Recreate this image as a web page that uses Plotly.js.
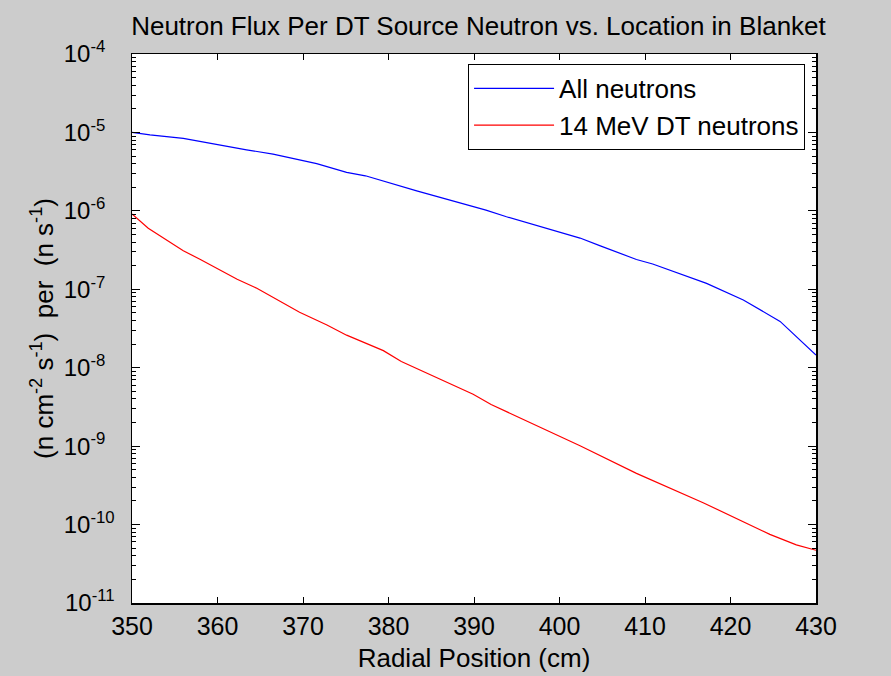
<!DOCTYPE html>
<html>
<head>
<meta charset="utf-8">
<script src="https://cdn.plot.ly/plotly-3.0.1.min.js"></script>
<style>html,body{margin:0;padding:0;background:#cccccc;}</style>
</head>
<body>
<div id="chart" style="width:891px;height:676px;"></div>
<script>
// Data
const allX = [350, 352.1, 356.0, 359.5, 363.4, 366.5, 368.9, 371.6, 375.1, 377.3, 383.3, 391.4, 393.8, 398.9, 402.4, 404.7, 409.0, 410.9, 417.2, 421.5, 425.8, 430];
const allY = [1.0e-5, 9.3e-6, 8.4e-6, 7.1e-6, 6.0e-6, 5.3e-6, 4.6e-6, 4.0e-6, 3.1e-6, 2.8e-6, 1.8e-6, 1.02e-6, 8.4e-7, 5.8e-7, 4.5e-7, 3.6e-7, 2.4e-7, 2.1e-7, 1.19e-7, 7.3e-8, 3.9e-8, 1.45e-8];
const dtX = [350, 351.9, 356.0, 358.0, 362.3, 364.6, 369.6, 372.8, 375.1, 376.7, 379.4, 381.5, 389.9, 392.0, 402.4, 409.0, 416.8, 424.6, 427.7, 430];
const dtY = [9.1e-7, 6.0e-7, 3.1e-7, 2.4e-7, 1.34e-7, 1.03e-7, 5.1e-8, 3.5e-8, 2.6e-8, 2.2e-8, 1.65e-8, 1.2e-8, 4.6e-9, 3.4e-9, 1.01e-9, 4.5e-10, 1.9e-10, 7.5e-11, 5.5e-11, 4.7e-11];
const seriesNames = ["All neutrons", "14 MeV DT neutrons"];
const yTickVals = [1e-11, 1e-10, 1e-9, 1e-8, 1e-7, 1e-6, 1e-5, 1e-4];
const yTickText = ["10<sup>-11</sup>", "10<sup>-10</sup>", "10<sup>-9\u00a0\u00a0</sup>", "10<sup>-8\u00a0\u00a0</sup>", "10<sup>-7\u00a0\u00a0</sup>", "10<sup>-6\u00a0\u00a0</sup>", "10<sup>-5\u00a0\u00a0</sup>", "10<sup>-4\u00a0\u00a0</sup>"];
const xTickVals = [350, 360, 370, 380, 390, 400, 410, 420, 430];

const font = "Liberation Sans, Arial, sans-serif";
const traces = [
  {x: allX, y: allY, name: seriesNames[0], mode: "lines", line: {color: "#0000ff", width: 1.2}},
  {x: dtX, y: dtY, name: seriesNames[1], mode: "lines", line: {color: "#ff0000", width: 1.2}},
  // invisible carrier so the minor-tick overlay axis is drawn
  {x: allX, y: allY, yaxis: "y2", mode: "lines", line: {width: 0, color: "rgba(0,0,0,0)"}, opacity: 0, showlegend: false, hoverinfo: "skip"}
];
const layout = {
  width: 891, height: 676,
  paper_bgcolor: "#cccccc", plot_bgcolor: "#ffffff",
  margin: {l: 132, r: 75, t: 54, b: 73},
  font: {family: font, size: 25, color: "#000000"},
  title: {text: "Neutron Flux Per DT Source Neutron vs. Location in Blanket", x: 0.537, xanchor: "center", y: 0.962, yanchor: "middle", font: {family: font, size: 26, color: "#000"}},
  showlegend: true,
  legend: {x: 0.984, y: 0.982, xanchor: "right", yanchor: "top", bgcolor: "#ffffff", bordercolor: "#000000", borderwidth: 1, font: {family: font, size: 26}, tracegroupgap: 0, itemwidth: 80},
  xaxis: {
    range: [350, 430], tickmode: "array", tickvals: xTickVals,
    ticks: "inside", ticklen: 6, tickcolor: "#000", tickwidth: 1,
    showline: true, linecolor: "#000", linewidth: 1.5, mirror: "ticks",
    showgrid: false, zeroline: false,
    tickfont: {family: font, size: 25},
    title: {text: "Radial Position (cm)", font: {family: font, size: 26}, standoff: 10},
    automargin: false
  },
  yaxis: {
    type: "log", range: [-11, -4], tickmode: "array", tickvals: yTickVals, ticktext: yTickText,
    ticks: "inside", ticklen: 8, tickcolor: "#000", tickwidth: 1,
    showline: true, linecolor: "#000", linewidth: 1.5, mirror: "ticks",
    showgrid: false, zeroline: false,
    tickfont: {family: font, size: 24},
    ticklabelstandoff: 11,
    title: {text: "(n cm<sup>-2</sup> s<sup>-1</sup>)  per  (n s<sup>-1</sup>)", font: {family: font, size: 26}, standoff: 2},
    automargin: false
  },
  yaxis2: {
    type: "log", range: [-11, -4], overlaying: "y", side: "left", dtick: "D1",
    ticks: "inside", ticklen: 4, tickcolor: "#000", tickwidth: 1,
    showticklabels: false, showline: false, mirror: "ticks",
    showgrid: false, zeroline: false, automargin: false
  }
};
Plotly.newPlot("chart", traces, layout, {displayModeBar: false, staticPlot: true});
</script>
</body>
</html>
